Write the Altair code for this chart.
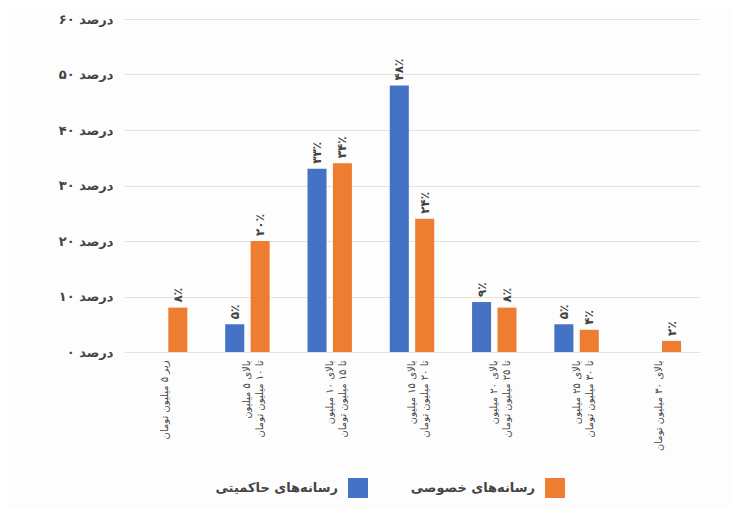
import altair as alt
import pandas as pd

categories = [
    "زیر ۵ میلیون تومان",
    "بالای ۵ میلیون|تا ۱۰ میلیون تومان",
    "بالای ۱۰ میلیون|تا ۱۵ میلیون تومان",
    "بالای ۱۵ میلیون|تا ۲۰ میلیون تومان",
    "بالای ۲۰ میلیون|تا ۲۵ میلیون تومان",
    "بالای ۲۵ میلیون|تا ۳۰ میلیون تومان",
    "بالای ۳۰ میلیون تومان",
]
series_names = ["رسانه‌های حاکمیتی", "رسانه‌های خصوصی"]
gov_values = [None, 5, 33, 48, 9, 5, None]
private_values = [8, 20, 34, 24, 8, 4, 2]
series_colors = ["#4472C4", "#ED7D31"]
y_ticks = [0, 10, 20, 30, 40, 50, 60]

fa_digits = "۰۱۲۳۴۵۶۷۸۹"


def to_fa(n):
    return "".join(fa_digits[int(c)] for c in str(n))


rows = []
for cat, g, p in zip(categories, gov_values, private_values):
    if g is not None:
        rows.append({"cat": cat, "series": series_names[0], "value": g,
                     "label": to_fa(g) + "٪"})
    if p is not None:
        rows.append({"cat": cat, "series": series_names[1], "value": p,
                     "label": to_fa(p) + "٪"})
df = pd.DataFrame(rows)

fa_tick_map = "{" + ",".join(f"'{t}': '{to_fa(t)}'" for t in y_ticks) + "}"

FONT = "DejaVu Sans"

x_enc = alt.X(
    "cat:N",
    sort=categories,
    scale=alt.Scale(domain=categories, paddingInner=0.46, paddingOuter=0.23),
    axis=alt.Axis(
        title=None,
        labelAngle=270,
        labelExpr="split(datum.label, '|')",
        labelFont=FONT,
        labelFontSize=10,
        labelColor="#444444",
        labelPadding=8,
        ticks=False,
        domain=False,
        labelLineHeight=13,
    ),
)
xoff_enc = alt.XOffset(
    "series:N",
    scale=alt.Scale(domain=series_names, paddingInner=0.25, paddingOuter=0),
)
y_enc = alt.Y(
    "value:Q",
    scale=alt.Scale(domain=[0, 60]),
    axis=alt.Axis(
        title=None,
        values=y_ticks,
        labelExpr=f"{fa_tick_map}[datum.value + ''] + ' درصد'",
        labelFont=FONT,
        labelFontSize=13,
        labelFontWeight="bold",
        labelColor="#444444",
        labelPadding=11,
        ticks=False,
        domain=False,
        gridColor="#e3e3e3",
        gridWidth=1,
    ),
)

bars = alt.Chart(df).mark_bar().encode(
    x=x_enc,
    xOffset=xoff_enc,
    y=y_enc,
    color=alt.Color(
        "series:N",
        scale=alt.Scale(domain=series_names, range=series_colors),
        legend=alt.Legend(
            title=None,
            orient="none",
            legendX=224,
            legendY=459,
            direction="horizontal",
            symbolType="square",
            symbolSize=400,
            symbolStrokeWidth=0,
            labelAlign="right",
            labelOffset={"expr": "-30"},
            labelFont=FONT,
            labelFontSize=13,
            labelFontWeight="bold",
            labelColor="#444444",
            columnPadding=42,
        ),
    ),
)

labels = alt.Chart(df).mark_text(
    angle=270,
    align="left",
    baseline="middle",
    dx=5,
    font=FONT,
    fontSize=12,
    fontWeight="bold",
    color="#444444",
).encode(
    x=alt.X("cat:N", sort=categories),
    xOffset=alt.XOffset("series:N"),
    y=alt.Y("value:Q"),
    text="label:N",
)

chart = (
    alt.layer(bars, labels)
    .properties(
        width=576,
        height=333,
        autosize=alt.AutoSizeParams(type="none"),
        padding={"left": 116, "top": 11, "right": 32, "bottom": 155},
        background="#fdfdfd",
    )
    .configure_view(stroke=None)
)

chart.save("out.html", embed_options={"renderer": "svg", "actions": False})
